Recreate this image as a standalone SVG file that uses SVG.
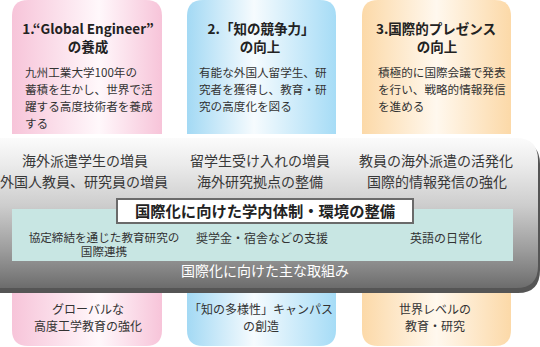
<svg xmlns="http://www.w3.org/2000/svg" width="540" height="347" viewBox="0 0 540 347">
<defs>
<linearGradient id="gPink" x1="0" y1="0" x2="1" y2="0">
<stop offset="0" stop-color="#f7c4d9"/><stop offset="0.58" stop-color="#fff8fb"/><stop offset="1" stop-color="#f7c4d9"/>
</linearGradient>
<linearGradient id="gBlue" x1="0" y1="0" x2="1" y2="0">
<stop offset="0" stop-color="#a3d9f4"/><stop offset="0.45" stop-color="#f6fbfe"/><stop offset="1" stop-color="#a6dcf6"/>
</linearGradient>
<linearGradient id="gOrange" x1="0" y1="0" x2="1" y2="0">
<stop offset="0" stop-color="#fcd9a8"/><stop offset="0.5" stop-color="#fff8ee"/><stop offset="1" stop-color="#fcd9a8"/>
</linearGradient>
<linearGradient id="gBand" x1="0" y1="0" x2="0" y2="1">
<stop offset="0" stop-color="#fbfbfb"/><stop offset="0.18" stop-color="#ebebeb"/><stop offset="0.45" stop-color="#cdcdcd"/><stop offset="0.75" stop-color="#9c9c9c"/><stop offset="0.9" stop-color="#808080"/><stop offset="1" stop-color="#6c6c6c"/>
</linearGradient>
<style>
text{font-family:"Noto Sans CJK JP","Noto Sans",sans-serif;fill:#333}
.t{font-size:13.5px;font-weight:bold;fill:#222;text-anchor:middle}
.b{font-size:11.6px}
.r{font-size:14px;text-anchor:middle;fill:#383838}
.s{font-size:12px;text-anchor:middle;fill:#333}
.w{font-size:14px;text-anchor:middle;fill:#fff}
</style>
</defs>

<g id="col1">
<path d="M12,134 V16 Q12,0 28,0 H146 Q162,0 162,16 V134 Z" fill="url(#gPink)"/>
<path d="M12,288 H162 V330 Q162,346 146,346 H28 Q12,346 12,330 Z" fill="url(#gPink)"/>
<text class="t" x="88" y="34">1.“Global Engineer”</text>
<text class="t" x="88" y="52">の養成</text>
<text class="b" x="25" y="77">九州工業大学100年の</text>
<text class="b" x="25" y="94">蓄積を生かし、世界で活</text>
<text class="b" x="25" y="111">躍する高度技術者を養成</text>
<text class="b" x="25" y="128">する</text>
<text class="s" x="88" y="314">グローバルな</text>
<text class="s" x="88" y="331">高度工学教育の強化</text>
</g>

<g id="col2">
<path d="M187,134 V16 Q187,0 203,0 H320 Q336,0 336,16 V134 Z" fill="url(#gBlue)"/>
<path d="M187,288 H336 V330 Q336,346 320,346 H203 Q187,346 187,330 Z" fill="url(#gBlue)"/>
<text class="t" x="261" y="34">2.「知の競争力」</text>
<text class="t" x="260" y="52">の向上</text>
<text class="b" x="199" y="77">有能な外国人留学生、研</text>
<text class="b" x="199" y="94">究者を獲得し、教育・研</text>
<text class="b" x="199" y="111">究の高度化を図る</text>
<text class="s" x="261" y="314">「知の多様性」キャンパス</text>
<text class="s" x="261" y="331">の創造</text>
</g>

<g id="col3">
<path d="M362,134 V16 Q362,0 378,0 H495 Q511,0 511,16 V134 Z" fill="url(#gOrange)"/>
<path d="M362,288 H511 V330 Q511,346 495,346 H378 Q362,346 362,330 Z" fill="url(#gOrange)"/>
<text class="t" x="436" y="34">3.国際的プレゼンス</text>
<text class="t" x="437" y="52">の向上</text>
<text class="b" x="378" y="77">積極的に国際会議で発表</text>
<text class="b" x="378" y="94">を行い、戦略的情報発信</text>
<text class="b" x="378" y="111">を進める</text>
<text class="s" x="435" y="314">世界レベルの</text>
<text class="s" x="435" y="331">教育・研究</text>
</g>

<g id="band">
<path d="M-5,142 H518 Q540,142 540,164 V270 Q540,293 518,293 H-5 Z" fill="#555"/>
<path d="M-5,138 H516 Q538,138 538,160 V266 Q538,288 516,288 H-5 Z" fill="url(#gBand)"/>
<text class="r" x="85" y="166">海外派遣学生の増員</text>
<text class="r" x="84" y="187">外国人教員、研究員の増員</text>
<text class="r" x="260" y="166">留学生受け入れの増員</text>
<text class="r" x="260" y="187">海外研究拠点の整備</text>
<text class="r" x="436" y="166">教員の海外派遣の活発化</text>
<text class="r" x="437" y="187">国際的情報発信の強化</text>
<text class="w" x="265" y="276">国際化に向けた主な取組み</text>
</g>

<g id="inner">
<rect x="12" y="209" width="501" height="52" fill="#c8e6e3"/>
<text class="s" x="104" y="242" style="font-size:11.6px">協定締結を通じた教育研究の</text>
<text class="s" x="104" y="256" style="font-size:11.6px">国際連携</text>
<text class="s" x="262" y="243">奨学金・宿舎などの支援</text>
<text class="s" x="446" y="243">英語の日常化</text>
</g>

<g id="title">
<rect x="117" y="199" width="296" height="24" fill="#fff" stroke="#6a6a6a" stroke-width="2"/>
<text x="265" y="216.5" style="font-size:15.3px;font-weight:bold;text-anchor:middle;fill:#222">国際化に向けた学内体制・環境の整備</text>
</g>

<g id="connectors"></g>
</svg>
